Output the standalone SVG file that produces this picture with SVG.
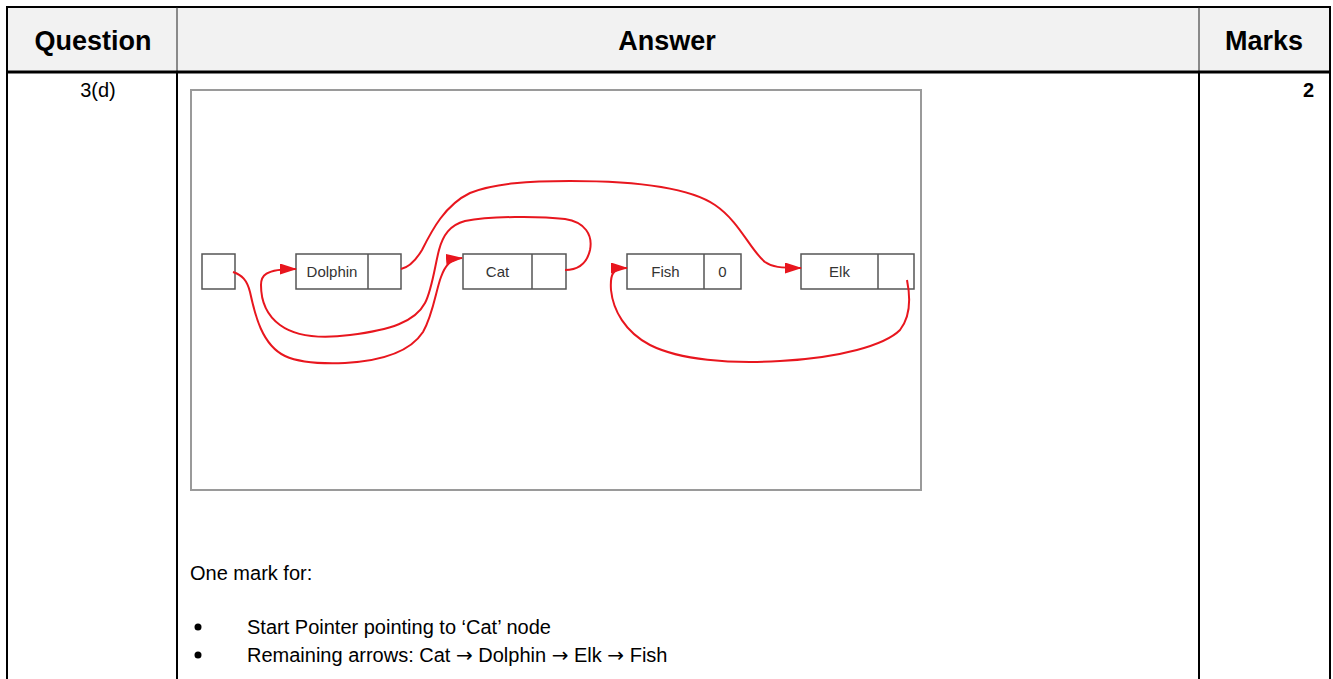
<svg xmlns="http://www.w3.org/2000/svg" width="1333" height="679" viewBox="0 0 1333 679">
<defs>
<style>
.hdr{font-family:"Liberation Sans",Arial,sans-serif;font-weight:bold;font-size:27px;fill:#000}
.body{font-family:"Liberation Sans",Arial,sans-serif;font-size:20px;fill:#000}
.arr{font-family:"DejaVu Sans",sans-serif;font-size:20px}
.node rect{fill:#fff;stroke:#555;stroke-width:1.5}
.node line{stroke:#555;stroke-width:1.5}
.lbl{font-family:"Liberation Sans",Arial,sans-serif;font-size:15px;fill:#333;text-anchor:middle}
.conn{fill:none;stroke:#e8161e;stroke-width:2;marker-end:url(#ah)}
</style>
<marker id="ah" markerUnits="userSpaceOnUse" markerWidth="17" markerHeight="11" refX="16" refY="5.5" orient="auto">
<path d="M0,0 L17,5.5 L0,11 z" fill="#e8161e"/>
</marker>
</defs>
<rect x="0" y="0" width="1333" height="679" fill="#fff"/>
<g id="table">
<rect x="7" y="7" width="1323" height="65" fill="#f2f2f2"/>
<line x1="7" y1="7" x2="1330" y2="7" stroke="#000" stroke-width="2"/>
<line x1="7" y1="6" x2="7" y2="679" stroke="#000" stroke-width="2"/>
<line x1="1330" y1="6" x2="1330" y2="679" stroke="#000" stroke-width="2"/>
<line x1="177" y1="7" x2="177" y2="72" stroke="#222" stroke-width="1"/>
<line x1="1199" y1="7" x2="1199" y2="72" stroke="#222" stroke-width="1"/>
<line x1="177" y1="72" x2="177" y2="679" stroke="#000" stroke-width="2"/>
<line x1="1199" y1="72" x2="1199" y2="679" stroke="#000" stroke-width="2"/>
<line x1="6" y1="72" x2="1331" y2="72" stroke="#000" stroke-width="3"/>
<text class="hdr" x="93" y="50" text-anchor="middle">Question</text>
<text class="hdr" x="667" y="50" text-anchor="middle">Answer</text>
<text class="hdr" x="1264" y="50" text-anchor="middle">Marks</text>
<text class="body" x="98" y="97" text-anchor="middle">3(d)</text>
<text class="body" x="1314" y="97" text-anchor="end" font-weight="bold">2</text>
<text class="body" x="190" y="580">One mark for:</text>
<circle cx="198" cy="627" r="3.5" fill="#000"/>
<circle cx="198" cy="655" r="3.5" fill="#000"/>
<text class="body" x="247" y="634">Start Pointer pointing to ‘Cat’ node</text>
<text class="body" x="247" y="662">Remaining arrows: Cat <tspan class="arr">→</tspan> Dolphin <tspan class="arr">→</tspan> Elk <tspan class="arr">→</tspan> Fish</text>
</g>
<rect id="frame" x="191" y="90" width="730" height="400" fill="#fff" stroke="#9a9a9a" stroke-width="2"/>
<g id="start" class="node"><rect x="202" y="254" width="33" height="35"/></g>
<g id="dolphin" class="node"><rect x="296" y="254" width="105" height="35"/><line x1="368" y1="254" x2="368" y2="289"/><text class="lbl" x="332" y="277">Dolphin</text></g>
<g id="cat" class="node"><rect x="463" y="254" width="103" height="35"/><line x1="532" y1="254" x2="532" y2="289"/><text class="lbl" x="497.5" y="277">Cat</text></g>
<g id="fish" class="node"><rect x="627" y="254" width="114" height="35"/><line x1="704" y1="254" x2="704" y2="289"/><text class="lbl" x="665.5" y="277">Fish</text><text class="lbl" x="722.5" y="277">0</text></g>
<g id="elk" class="node"><rect x="801" y="254" width="113" height="35"/><line x1="878" y1="254" x2="878" y2="289"/><text class="lbl" x="839.5" y="277">Elk</text></g>
<g id="connectors">
<path class="conn" d="M233,272 C242,275 247,280 250,292 C255,315 262,345 285,356 C300,363 320,364 345,363 C380,361 410,352 423,332 C433,315 436,290 441,277 C445,266 450,259 462,258"/>
<path class="conn" d="M565,270 C578,270 587,263 590,250 C593,235 585,222 565,219 C540,216 490,216 465,221 C450,225 443,235 439,250 C435,265 432,290 425,303 C415,322 390,330 350,335 C320,339 295,336 280,325 C265,314 261,298 261,285 C261,276 264,269 296,269"/>
<path class="conn" d="M401,269 C410,267 416,260 422,250 C432,230 445,205 470,193 C495,183 530,181 570,181 C640,181 690,188 715,205 C740,222 750,250 765,262 C772,267 780,268 801,268"/>
<path class="conn" d="M907,280 C910,295 912,315 900,330 C885,345 840,358 780,361 C730,364 680,360 650,345 C625,332 613,310 611,290 C610,275 612,268 627,268"/>
</g>
</svg>
